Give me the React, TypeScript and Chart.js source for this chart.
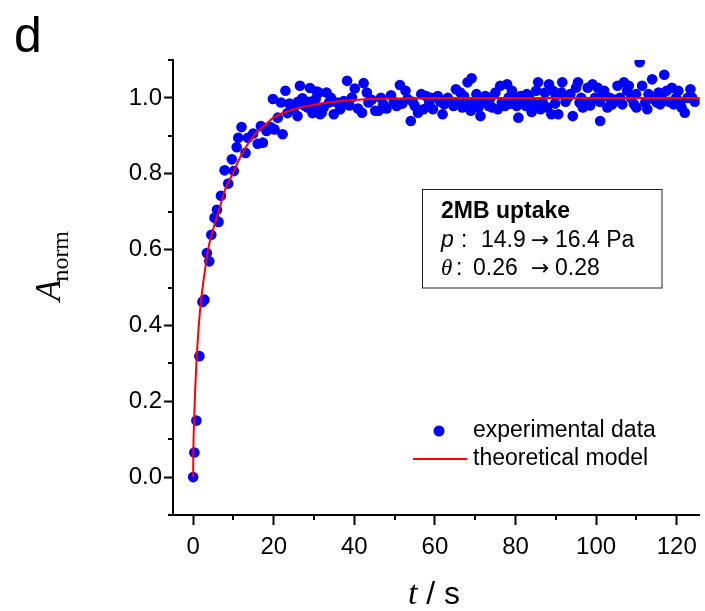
import React, { useEffect, useRef } from "react";
import { Chart, registerables } from "chart.js";

Chart.register(...registerables);

// ---------- data ----------
const expTime = [
  0, 0.3, 0.8, 1.55, 2.3, 2.8, 3.4, 4.0, 4.5, 5.3, 5.9, 6.3, 6.9, 7.8, 8.7, 9.6, 10.1, 10.8, 11.2, 12.0,
  13.0, 13.6, 14.9, 16.0, 16.8, 17.3, 18.2, 19.2, 19.8, 20.2, 21.0, 21.8, 22.2, 22.9, 23.9, 24.9, 25.9,
  26.5, 27.1, 28.4, 29.0, 30.0, 30.4, 30.7, 31.2, 31.5, 31.9, 33.1, 33.7, 34.9, 35.7, 37.4, 38.2, 39.4,
  40.1, 40.9, 41.9, 42.3, 43.1, 43.5, 45.2, 46.0, 47.2, 49.1, 50.5, 51.3, 52.7, 53.2, 54.0, 55.0, 55.8,
  56.6, 57.8, 58.6, 59.5, 60.7, 61.9, 62.3, 64.0, 64.6, 65.2, 66.3, 66.8, 67.6, 68.1, 68.9, 69.1, 70.3,
  71.3, 72.5, 73.4, 74.2, 75.0, 76.2, 76.6, 77.4, 77.9, 78.3, 79.1, 80.3, 80.7, 81.3, 82.6, 82.8, 84.0,
  85.1, 85.6, 86.2, 87.3, 88.3, 88.9, 89.3, 90.0, 90.6, 91.4, 91.6, 93.0, 94.2, 95.0, 95.5, 95.9, 96.7,
  97.9, 99.1, 100.4, 101.0, 102.0, 102.8, 104.0, 105.3, 106.5, 106.9, 107.7, 108.1, 109.4, 110.0, 110.8,
  111.4, 112.2, 113.0, 113.9, 115.1, 115.5, 115.9, 116.9, 117.5, 118.8, 119.2, 120.4, 121.2, 122.0,
  123.4, 123.8,
  // points hidden in the dense band
  23.4, 26.0, 27.6, 28.8, 29.6, 32.4, 34.2, 36.5, 38.8, 44.3, 46.6, 48.0, 49.8, 51.9, 54.5, 57.2, 59.0,
  61.3, 63.2, 65.8, 67.2, 69.6, 70.8, 71.9, 73.8, 75.6, 78.8, 79.7, 81.9, 83.4, 84.6, 86.7, 87.8, 89.8,
  92.4, 93.6, 96.3, 97.3, 98.5, 99.7, 100.9, 101.5, 103.4, 104.7, 105.9, 108.7, 109.9, 112.7, 114.5,
  116.3, 118.1, 119.8, 120.9, 122.7, 124.5,
];
const expValue = [
  0.0, 0.065, 0.149, 0.319, 0.462, 0.468, 0.591, 0.569, 0.639, 0.684, 0.705, 0.673, 0.742, 0.809, 0.774,
  0.838, 0.807, 0.87, 0.895, 0.923, 0.855, 0.895, 0.906, 0.879, 0.926, 0.882, 0.913, 0.923, 0.997, 0.917,
  0.948, 0.988, 0.904, 1.019, 0.985, 0.97, 0.952, 1.032, 0.999, 0.975, 1.026, 0.979, 0.997, 1.017, 1.014,
  0.957, 0.961, 1.014, 0.988, 0.957, 0.988, 0.992, 1.045, 1.001, 1.025, 0.972, 0.961, 1.039, 1.014, 0.988,
  0.966, 0.966, 0.983, 1.007, 0.979, 1.034, 1.019, 0.997, 0.939, 0.979, 0.961, 1.01, 1.005, 0.988, 0.97,
  1.005, 0.957, 0.983, 0.988, 0.979, 1.023, 1.014, 0.975, 0.988, 1.041, 0.966, 1.052, 1.01, 0.952, 1.005,
  0.979, 0.975, 1.014, 1.032, 0.988, 0.979, 1.036, 1.001, 1.019, 0.979, 0.948, 1.005, 0.979, 1.01, 0.963,
  1.019, 1.041, 0.97, 1.014, 1.036, 0.957, 1.019, 1.005, 0.957, 1.014, 1.041, 1.001, 0.952, 1.027, 1.041,
  0.988, 0.975, 1.027, 1.036, 1.027, 0.939, 1.019, 0.975, 0.983, 1.032, 0.983, 1.041, 1.019, 1.032, 0.983,
  0.975, 1.094, 1.032, 0.988, 1.01, 1.049, 0.988, 1.014, 0.983, 1.061, 1.019, 1.027, 0.983, 1.019, 0.975,
  0.961, 1.023, 1.001,
  0.96, 0.99, 0.98, 0.99, 0.96, 0.975, 1.0, 0.97, 0.98, 0.995, 1.0, 0.972, 0.99, 0.985, 0.99, 0.97, 1.0,
  0.99, 1.0, 0.99, 1.005, 0.99, 0.975, 0.99, 1.0, 0.97, 0.985, 1.0, 0.99, 1.0, 0.985, 0.99, 0.975, 0.985,
  0.99, 1.01, 1.0, 0.99, 0.98, 1.0, 0.99, 1.005, 1.0, 0.995, 1.0, 1.0, 1.01, 0.97, 0.995,
  1.0, 0.99, 1.0, 0.99, 1.0, 0.99,
];

const modelTime = [0, 0.05, 0.15, 0.3, 0.5, 0.8, 1.4, 2.0, 2.6, 3.7, 5.0, 6.3, 8.0, 9.8, 12.0, 15.0, 17.5, 20.2, 25.1, 31.7, 38, 45, 55, 70, 126];
const modelValue = [0, 0.07, 0.12, 0.17, 0.23, 0.3, 0.4, 0.47, 0.52, 0.6, 0.655, 0.7, 0.76, 0.8, 0.85, 0.9, 0.925, 0.95, 0.97, 0.985, 0.993, 0.997, 0.999, 1.0, 1.0];

const xTicks = [0, 20, 40, 60, 80, 100, 120];
const xMinorTicks = [10, 30, 50, 70, 90, 110];
const yTicks = [0, 0.2, 0.4, 0.6, 0.8, 1.0];
const yMinorTicks = [-0.1, 0.1, 0.3, 0.5, 0.7, 0.9, 1.1];

const seriesLabels = ["experimental data", "theoretical model"];
const panelLabel = "d";
const boxTitle = "2MB uptake";
const pLine = ["p", ":", "14.9", "\u2192", "16.4 Pa"];
const thetaLine = ["\u03B8", ":", "0.26", "\u2192", "0.28"];

const SANS = '"Liberation Sans", Arial, Helvetica, sans-serif';
const SERIF = '"Liberation Serif", "Times New Roman", serif';
const ARROW = '"DejaVu Sans", sans-serif';
const BLUE = "#0000FF";
const RED = "#FF0000";

const decorPlugin = {
  id: "decor",
  afterDraw(chart: any) {
    const ctx = chart.ctx as CanvasRenderingContext2D;
    const xs = chart.scales.x;
    const ys = chart.scales.y;
    const area = chart.chartArea;
    ctx.save();
    // minor ticks
    ctx.strokeStyle = "#000";
    ctx.lineWidth = 2;
    ctx.beginPath();
    for (const v of xMinorTicks) {
      const px = Math.round(xs.getPixelForValue(v));
      ctx.moveTo(px, area.bottom);
      ctx.lineTo(px, area.bottom + 5);
    }
    for (const v of yMinorTicks) {
      const py = Math.round(ys.getPixelForValue(v));
      ctx.moveTo(area.left - 5, py);
      ctx.lineTo(area.left, py);
    }
    ctx.stroke();

    ctx.fillStyle = "#000";
    // panel label
    ctx.textAlign = "left";
    ctx.textBaseline = "alphabetic";
    ctx.font = `50px ${SANS}`;
    ctx.fillText(panelLabel, 14, 52);

    // y title  A_norm (rotated)
    ctx.save();
    ctx.translate(60, 301);
    ctx.rotate(-Math.PI / 2);
    ctx.font = `italic 35px ${SERIF}`;
    ctx.fillText("A", 0, 0);
    const aw = ctx.measureText("A").width;
    ctx.font = `24px ${SERIF}`;
    ctx.fillText("norm", aw - 2, 8);
    ctx.restore();

    // x title  t / s
    ctx.font = `italic 34px ${SERIF}`;
    ctx.fillText("t", 408, 604);
    const tw = ctx.measureText("t").width;
    ctx.font = `32px ${SANS}`;
    ctx.fillText(" / s", 408 + tw, 604);

    // info box
    ctx.lineWidth = 1;
    ctx.strokeStyle = "#222";
    ctx.strokeRect(422.5, 189.5, 239.5, 98.5);
    ctx.textBaseline = "middle";
    ctx.font = `bold 23px ${SANS}`;
    ctx.fillText(boxTitle, 441, 212);
    const pX = [441, 461, 481, 531, 555];
    pLine.forEach((s, i) => {
      ctx.font = i === 0 ? `italic 23px ${SANS}` : i === 3 ? `22px ${ARROW}` : `23px ${SANS}`;
      ctx.fillText(s, pX[i], 241);
    });
    const tX = [441, 456, 473, 531, 555];
    thetaLine.forEach((s, i) => {
      ctx.font = i === 0 ? `italic 23px ${SERIF}` : i === 3 ? `22px ${ARROW}` : `23px ${SANS}`;
      ctx.fillText(s, tX[i], 269);
    });

    // legend
    ctx.fillStyle = BLUE;
    ctx.beginPath();
    ctx.arc(439, 431, 5.5, 0, Math.PI * 2);
    ctx.fill();
    ctx.strokeStyle = RED;
    ctx.lineWidth = 2;
    ctx.beginPath();
    ctx.moveTo(413, 459);
    ctx.lineTo(467, 459);
    ctx.stroke();
    ctx.fillStyle = "#000";
    ctx.font = `23px ${SANS}`;
    ctx.fillText(seriesLabels[0], 473, 431);
    ctx.fillText(seriesLabels[1], 473, 459);
    ctx.restore();
  },
};

export default function App() {
  const ref = useRef<HTMLCanvasElement | null>(null);
  useEffect(() => {
    document.body.style.overflow = "hidden";
    const canvas = ref.current!;
    const chart = new Chart(canvas, {
      type: "scatter",
      data: {
        datasets: [
          {
            type: "line",
            label: seriesLabels[1],
            data: modelTime.map((t, i) => ({ x: t, y: modelValue[i] })),
            borderColor: RED,
            borderWidth: 2,
            pointRadius: 0,
            showLine: true,
            fill: false,
            cubicInterpolationMode: "monotone",
            order: 0,
          } as any,
          {
            type: "scatter",
            label: seriesLabels[0],
            data: expTime.map((t, i) => ({ x: t, y: expValue[i] })),
            backgroundColor: BLUE,
            borderColor: BLUE,
            borderWidth: 0,
            pointRadius: 5.3,
            pointHoverRadius: 5.3,
            order: 1,
          } as any,
        ],
      },
      options: {
        animation: false,
        responsive: false,
        events: [],
        layout: { padding: { top: 60, right: 0, left: 0, bottom: 0 } },
        plugins: { legend: { display: false }, tooltip: { enabled: false } },
        scales: {
          x: {
            type: "linear",
            min: -5,
            max: 125.7,
            afterBuildTicks: (s: any) => {
              s.ticks = xTicks.map((v) => ({ value: v }));
            },
            afterFit: (s: any) => {
              s.height = 96;
            },
            ticks: {
              color: "#000",
              font: { family: SANS, size: 24 },
              padding: 8,
              maxRotation: 0,
              autoSkip: false,
              callback: (v: any) => String(v),
            },
            grid: {
              drawOnChartArea: false,
              drawTicks: true,
              tickLength: 10,
              tickWidth: 2,
              tickColor: "#000",
            },
            border: { display: true, color: "#000", width: 2 },
          },
          y: {
            type: "linear",
            min: -0.1,
            max: 1.1,
            afterBuildTicks: (s: any) => {
              s.ticks = yTicks.map((v) => ({ value: v }));
            },
            afterFit: (s: any) => {
              s.width = 173;
            },
            ticks: {
              color: "#000",
              font: { family: SANS, size: 24 },
              padding: 2,
              autoSkip: false,
              callback: (v: any) => Number(v).toFixed(1),
            },
            grid: {
              drawOnChartArea: false,
              drawTicks: true,
              tickLength: 9,
              tickWidth: 2,
              tickColor: "#000",
            },
            border: { display: true, color: "#000", width: 2 },
          },
        },
      } as any,
      plugins: [decorPlugin],
    });
    return () => chart.destroy();
  }, []);
  return (
    <div style={{ position: "fixed", left: 0, top: 0, width: 705, height: 611, background: "#fff" }}>
      <canvas ref={ref} width={705} height={611} style={{ display: "block" }} />
    </div>
  );
}
